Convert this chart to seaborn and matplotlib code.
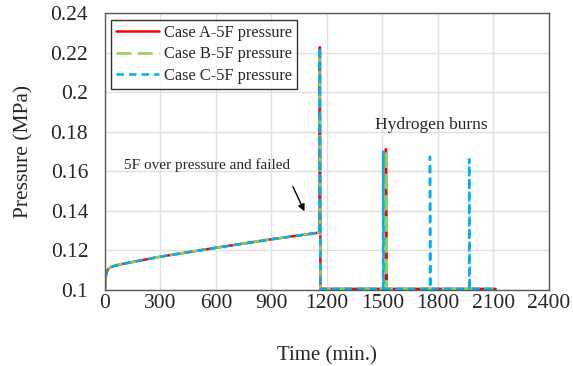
import matplotlib
matplotlib.use("Agg")
import matplotlib.pyplot as plt
import seaborn as sns
import pandas as pd

# ---- data ----
t_base = [0, 3, 10, 20, 40, 70, 100, 300, 600, 900, 1160]
p_base = [0.100, 0.106, 0.109, 0.1108, 0.1118, 0.1126, 0.1132, 0.1168, 0.1213, 0.1256, 0.1290]

t_A = t_base + [1162, 1165, 1519, 1519, 1523, 2112]
p_A = p_base + [0.2228, 0.1005, 0.1005, 0.1712, 0.1005, 0.1005]

t_B = t_base + [1162, 1165, 1520, 1520, 1524, 2100]
p_B = p_base + [0.2228, 0.1005, 0.1005, 0.1710, 0.1005, 0.1005]

t_C = t_base + [1162, 1165, 1504, 1504, 1507, 1757, 1757, 1760, 1969, 1969, 1972, 2122]
p_C = p_base + [0.2228, 0.1005, 0.1005, 0.1700, 0.1005, 0.1005, 0.1674, 0.1005, 0.1005, 0.1662, 0.1005, 0.1005]

labels = ["Case A-5F pressure", "Case B-5F pressure", "Case C-5F pressure"]
colors = ["#FF0000", "#92D050", "#00B0F0"]
x_ticks = [0, 300, 600, 900, 1200, 1500, 1800, 2100, 2400]
y_ticks = [0.1, 0.12, 0.14, 0.16, 0.18, 0.2, 0.22, 0.24]
y_tick_labels = ["0.1", "0.12", "0.14", "0.16", "0.18", "0.2", "0.22", "0.24"]

sns.set_style("white")
plt.rcParams["font.family"] = ["Liberation Serif", "DejaVu Serif"]

fig = plt.figure(figsize=(5.73, 3.66), dpi=100)
ax = fig.add_axes([0.183, 0.208, 0.775, 0.756])

series = [(t_A, p_A), (t_B, p_B), (t_C, p_C)]
dashes = [None, (6, 2.5), (3, 2)]
for (t, p), lab, c, d in zip(series, labels, colors, dashes):
    df = pd.DataFrame({"t": t, "p": p})
    sns.lineplot(data=df, x="t", y="p", sort=False, estimator=None, color=c,
                 linewidth=1.8, label=lab, ax=ax)
    if d is not None:
        ax.lines[-1].set_dashes(d)

ax.set_xlim(0, 2400)
ax.set_ylim(0.1, 0.24)
ax.set_xticks(x_ticks)
ax.set_yticks(y_ticks)
ax.set_yticklabels(y_tick_labels)
ax.tick_params(axis="x", labelsize=15.5, length=0, pad=3)
ax.tick_params(axis="y", labelsize=15.5, length=0, pad=12)
ax.grid(True, color="#E0E0E0", linewidth=1)
ax.set_axisbelow(True)
for s in ax.spines.values():
    s.set_color("#595959")
    s.set_linewidth(1)
ax.set_xlabel("Time (min.)", fontsize=15, labelpad=24)
ax.set_ylabel("Pressure (MPa)", fontsize=15.5, labelpad=12)

leg = ax.legend(loc="upper left", fontsize=11.8, frameon=True, fancybox=False,
                edgecolor="black", borderaxespad=0.4, handlelength=2.6,
                labelspacing=0.35, borderpad=0.3, handletextpad=0.3)
leg.get_frame().set_linewidth(1)

ax.text(1762, 0.1834, "Hydrogen burns", fontsize=12.5, ha="center", va="center")
ax.text(551, 0.163, "5F over pressure and failed", fontsize=11, ha="center", va="center")
ax.annotate("", xy=(1085, 0.1385), xytext=(1010, 0.1535),
            arrowprops=dict(arrowstyle="-|>", color="black", lw=1, mutation_scale=10))

fig.savefig("out.png", dpi=100)
